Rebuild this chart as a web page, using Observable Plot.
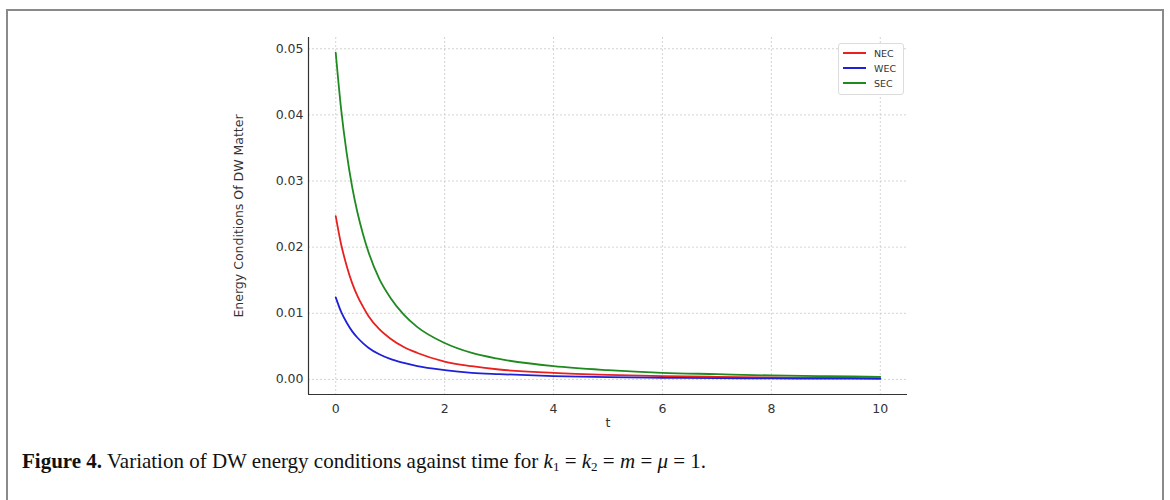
<!DOCTYPE html>
<html>
<head>
<meta charset="utf-8">
<script src="https://cdn.jsdelivr.net/npm/d3@7"></script>
<script src="https://cdn.jsdelivr.net/npm/@observablehq/plot@0.6"></script>
<style>
  html, body { margin: 0; padding: 0; background: #fff; }
  #wrap { position: relative; width: 1170px; height: 500px; overflow: hidden; }
  #frame { position: absolute; left: 6px; top: 9px; width: 1154px; height: 500px;
           border-left: 2px solid #8a8a8a; border-top: 2px solid #8a8a8a; border-right: 2px solid #8a8a8a; }
  #chart { position: absolute; left: 0; top: 0; }
  #legend { position: absolute; left: 838px; top: 43px; width: 64px; height: 50px;
            border: 1px solid #dcdcdc; border-radius: 3px; background: rgba(255,255,255,0.9);
            font-family: "DejaVu Sans", sans-serif; font-size: 9.5px; color: #333; }
  .li { position: absolute; left: 4px; height: 12px; display: flex; align-items: center; }
  .li span.sw { display: inline-block; width: 23px; height: 2px; margin-right: 8px; }
  #caption { position: absolute; left: 22px; top: 449px; font-family: "Liberation Serif", "DejaVu Serif", serif;
             font-size: 21px; color: #111; white-space: nowrap; }
  #caption b { font-weight: bold; }
  #caption i { font-style: italic; }
  #caption sub { font-size: 13px; vertical-align: -3px; }
</style>
</head>
<body>
<div id="wrap">
  <div id="frame"></div>
  <div id="chart"></div>
  <div id="legend"></div>
  <div id="caption"><b>Figure 4.</b> Variation of DW energy conditions against time for <i>k</i><sub>1</sub> = <i>k</i><sub>2</sub> = <i>m</i> = <i>μ</i> = 1.</div>
</div>
<script>
// Data
const tValues = [0, 0.1, 0.2, 0.3, 0.4, 0.5, 0.6, 0.8, 1, 1.25, 1.5, 2, 2.5, 3, 4, 5, 6, 7, 8, 9, 10];
const necValues = [0.0247, 0.0204, 0.0172, 0.0146, 0.0126, 0.0110, 0.0096, 0.0076, 0.0062, 0.0049, 0.0040, 0.0027, 0.0020, 0.0015, 0.0010, 0.0007, 0.0005, 0.0004, 0.0003, 0.00025, 0.0002];
const wecValues = [0.0124, 0.0102, 0.0086, 0.0073, 0.0063, 0.0055, 0.0048, 0.0038, 0.0031, 0.0025, 0.0020, 0.0014, 0.0010, 0.0008, 0.0005, 0.00035, 0.00025, 0.0002, 0.00015, 0.00012, 0.0001];
const secValues = [0.0494, 0.0408, 0.0343, 0.0292, 0.0252, 0.0220, 0.0193, 0.0152, 0.0124, 0.0098, 0.0079, 0.0055, 0.0040, 0.0031, 0.0020, 0.0014, 0.0010, 0.0008, 0.0006, 0.0005, 0.0004];
const seriesNames = ["NEC", "WEC", "SEC"];
const seriesColors = ["#e8201e", "#2020d8", "#1f8a1f"];
const xTicks = [0, 2, 4, 6, 8, 10];
const yTicks = [0, 0.01, 0.02, 0.03, 0.04, 0.05];

const valuesBySeries = [necValues, wecValues, secValues];
const rows = [];
seriesNames.forEach((name, si) => {
  tValues.forEach((t, i) => rows.push({series: name, t, v: valuesBySeries[si][i]}));
});

const xDomain = [-0.5, 10.5];
const yDomain = [-0.00228, 0.0517];

const chart = Plot.plot({
  width: 1170,
  height: 430,
  marginLeft: 308,
  marginRight: 263,
  marginTop: 37,
  marginBottom: 36,
  style: {fontFamily: "DejaVu Sans, sans-serif", fontSize: "12.5px", color: "#333", background: "transparent"},
  x: {domain: xDomain, label: null},
  y: {domain: yDomain, label: null},
  color: {domain: seriesNames, range: seriesColors},
  marks: [
    Plot.gridX(xTicks, {stroke: "#c8c8c8", strokeOpacity: 1, strokeDasharray: "2,2", strokeWidth: 0.8}),
    Plot.gridY(yTicks, {stroke: "#c8c8c8", strokeOpacity: 1, strokeDasharray: "2,2", strokeWidth: 0.8}),
    Plot.axisX(xTicks, {tickSize: 0, tickPadding: 10, tickFormat: d3.format("d"), fill: "#333",
                        label: "t", labelAnchor: "center", labelArrow: "none", labelOffset: 32}),
    Plot.axisY(yTicks, {tickSize: 0, tickPadding: 5, tickFormat: d3.format(".2f"), fill: "#333",
                        label: "Energy Conditions Of DW Matter", labelAnchor: "center", labelArrow: "none", labelOffset: 74}),
    Plot.ruleX([xDomain[0]], {stroke: "#333", strokeWidth: 1.2}),
    Plot.ruleY([yDomain[0]], {stroke: "#333", strokeWidth: 1.2}),
    Plot.line(rows, {x: "t", y: "v", z: "series", stroke: "series", strokeWidth: 1.8, curve: "monotone-x"})
  ]
});
document.getElementById("chart").appendChild(chart);

const legend = document.getElementById("legend");
seriesNames.forEach((name, i) => {
  const d = document.createElement("div");
  d.className = "li";
  d.style.top = (3 + i * 15) + "px";
  d.innerHTML = `<span class="sw" style="background:${seriesColors[i]}"></span>${name}`;
  legend.appendChild(d);
});
</script>
</body>
</html>
